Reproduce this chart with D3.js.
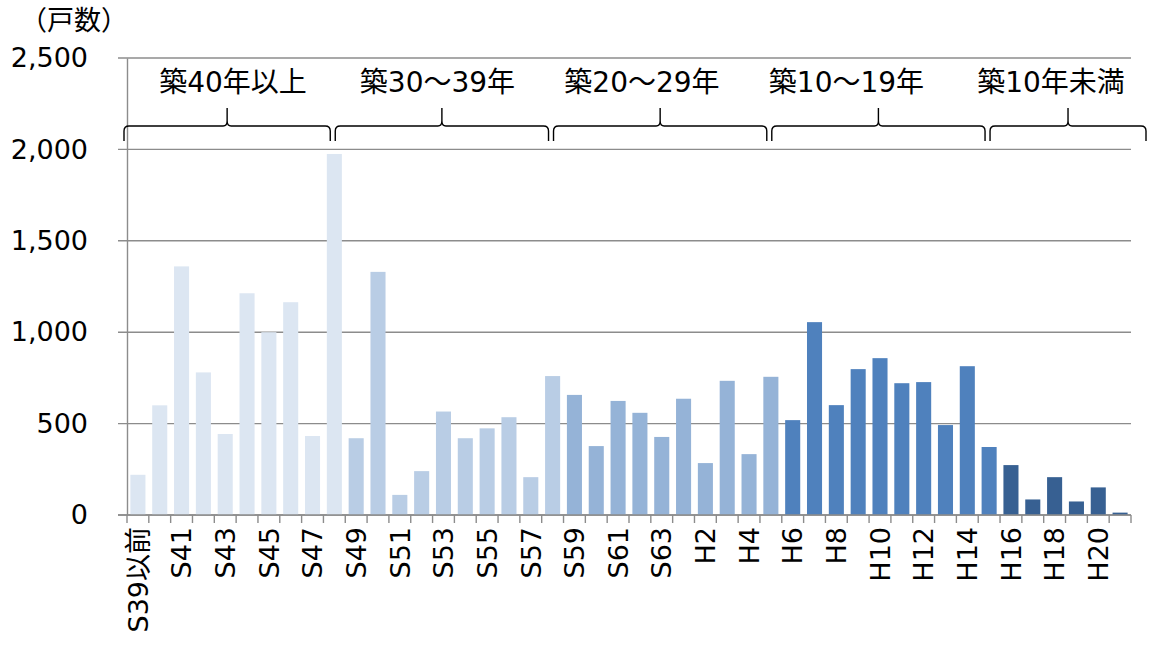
<!DOCTYPE html>
<html>
<head>
<meta charset="utf-8">
<script src="https://cdn.jsdelivr.net/npm/d3@7"></script>
<style>
  body { margin: 0; background: #fff; }
  text { font-family: "DejaVu Sans", "Noto Sans CJK JP", sans-serif; fill: #000; }
</style>
</head>
<body>
<div id="chart"></div>
<script>
// categories (construction year)
const categories = ["S39以前","S40","S41","S42","S43","S44","S45","S46","S47","S48",
  "S49","S50","S51","S52","S53","S54","S55","S56","S57","S58",
  "S59","S60","S61","S62","S63","H1","H2","H3","H4","H5",
  "H6","H7","H8","H9","H10","H11","H12","H13","H14","H15",
  "H16","H17","H18","H19","H20","H21"];

// number of dwellings
const values = [220,600,1360,780,443,1213,1000,1164,432,1975,
  420,1330,110,240,566,420,474,535,207,760,
  657,377,624,559,427,636,284,734,333,756,
  519,1055,601,798,858,721,727,492,814,372,
  273,85,207,74,151,13];

const tickLabels = ["S39以前","S41","S43","S45","S47","S49","S51","S53","S55","S57",
  "S59","S61","S63","H2","H4","H6","H8","H10","H12","H14","H16","H18","H20"];

const yTicks = [0,500,1000,1500,2000,2500];

// age groups
const groupLabels = ["築40年以上","築30～39年","築20～29年","築10～19年","築10年未満"];
const groupFirst = ["S39以前","S49","S59","H6","H16"];
const groupLast = ["S48","S58","H5","H15","H21"];
const groupColors = ["#dce6f2","#b9cde5","#95b3d7","#4f81bd","#376092"];

const W = 1149, H = 646;
const margin = {left: 127, right: 1131, top: 58, bottom: 515};
const fontFamily = '"DejaVu Sans", "Noto Sans CJK JP", sans-serif';

const svg = d3.select("#chart")
  .append("svg")
  .attr("width", W)
  .attr("height", H);

svg.append("rect").attr("width", W).attr("height", H).attr("fill", "#fff");

const x = d3.scaleBand()
  .domain(categories)
  .range([margin.left, margin.right])
  .paddingInner(0.31)
  .paddingOuter(0.155);

const y = d3.scaleLinear().domain([0, 2500]).range([margin.bottom, margin.top]);

const step = x.step();
const idx = d => categories.indexOf(d);
const groupOf = d => {
  let g = 0;
  groupFirst.forEach((f, i) => { if (idx(d) >= idx(f)) g = i; });
  return g;
};

// gridlines
svg.append("g")
  .selectAll("line")
  .data(yTicks)
  .join("line")
  .attr("x1", margin.left - 9)
  .attr("x2", margin.right)
  .attr("y1", d => y(d))
  .attr("y2", d => y(d))
  .attr("stroke", "#8c8c8c")
  .attr("stroke-width", 1.4);

// y axis labels
const yAxis = svg.append("g")
  .attr("transform", `translate(${margin.left},0)`)
  .call(d3.axisLeft(y).tickValues(yTicks).tickFormat(d3.format(",")).tickSize(0).tickPadding(39));
yAxis.select(".domain").attr("stroke", "#8c8c8c").attr("stroke-width", 1.4);
yAxis.selectAll("text").attr("font-size", "27px").style("font-family", fontFamily);

// bars
svg.append("g")
  .selectAll("rect")
  .data(categories)
  .join("rect")
  .attr("x", d => x(d))
  .attr("y", (d, i) => y(values[i]))
  .attr("width", x.bandwidth())
  .attr("height", (d, i) => y(0) - y(values[i]))
  .attr("fill", d => groupColors[groupOf(d)]);

// x axis
const xAxis = svg.append("g")
  .attr("transform", `translate(0,${margin.bottom})`)
  .call(d3.axisBottom(x).tickSize(8).tickFormat(d => tickLabels.includes(d) ? d : ""));
xAxis.select(".domain").attr("d", `M${margin.left - 9},0H${margin.right}`)
  .attr("stroke", "#8c8c8c").attr("stroke-width", 1.4);
xAxis.selectAll(".tick line")
  .attr("transform", `translate(${-step / 2},0)`)
  .attr("stroke", "#8c8c8c").attr("stroke-width", 1.4);
xAxis.append("line")
  .attr("x1", margin.right).attr("x2", margin.right).attr("y1", 0).attr("y2", 8)
  .attr("stroke", "#8c8c8c").attr("stroke-width", 1.4);
xAxis.selectAll(".tick text")
  .attr("font-size", "27px")
  .style("font-family", fontFamily)
  .attr("text-anchor", "end")
  .attr("transform", "rotate(-90)")
  .attr("x", -12)
  .attr("y", 0)
  .attr("dy", "0.36em");

// braces
const braceY = 126;
const brace = (x0, x1) => {
  const cx = (x0 + x1) / 2;
  return `M${x0},141 L${x0},131 Q${x0},${braceY} ${x0 + 5},${braceY} L${cx - 4},${braceY} ` +
    `Q${cx},${braceY} ${cx},${braceY - 5} L${cx},108 L${cx},${braceY - 5} ` +
    `Q${cx},${braceY} ${cx + 4},${braceY} L${x1 - 5},${braceY} Q${x1},${braceY} ${x1},131 L${x1},141`;
};
svg.append("g")
  .selectAll("path")
  .data(groupLabels)
  .join("path")
  .attr("d", (d, i) => {
    let x0 = x(groupFirst[i]) - step * 0.155 - 10;
    let x1 = x(groupLast[i]) + x.bandwidth() + step * 0.155 - 15;
    if (i === 0) x0 = margin.left - 3;
    if (i === groupLabels.length - 1) x1 = margin.right + 15;
    return brace(x0, x1);
  })
  .attr("fill", "none")
  .attr("stroke", "#000")
  .attr("stroke-width", 1.4);

svg.append("g")
  .selectAll("text")
  .data(groupLabels)
  .join("text")
  .attr("x", (d, i) => 233 + 204.5 * i)
  .attr("y", 92)
  .attr("text-anchor", "middle")
  .attr("font-size", "28px")
  .text(d => d);

// unit label
svg.append("text")
  .attr("x", 20)
  .attr("y", 30)
  .attr("font-size", "27px")
  .style("font-family", '"Noto Sans CJK JP", sans-serif')
  .text("（戸数）");
</script>
</body>
</html>
